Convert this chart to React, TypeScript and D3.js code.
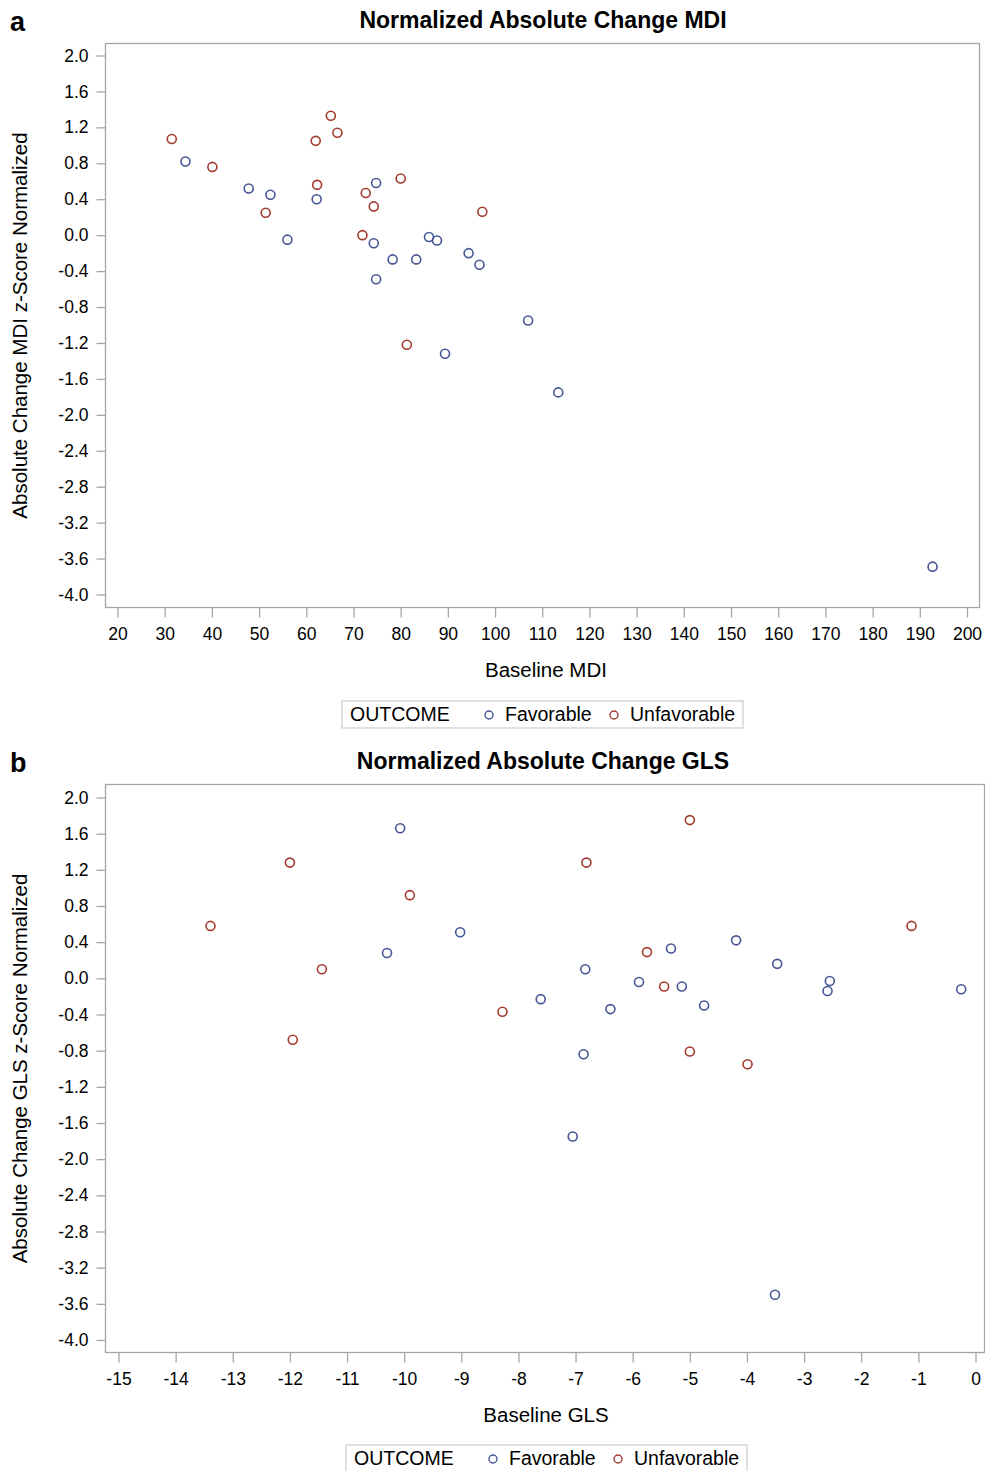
import { useRef, useEffect } from 'react';
import * as d3 from 'd3';

// panel a: baseline MDI vs normalized change
const mdiFavX = [34.4, 47.8, 52.4, 56.0, 62.2, 74.8, 74.3, 74.8, 78.3, 83.3, 86.0, 87.7, 94.4, 96.7, 89.4, 107.0, 113.4, 192.7];
const mdiFavY = [0.82, 0.52, 0.45, -0.05, 0.40, 0.58, -0.09, -0.49, -0.27, -0.27, -0.02, -0.06, -0.20, -0.33, -1.32, -0.95, -1.75, -3.69];
const mdiUnfX = [31.5, 40.1, 51.4, 62.0, 62.3, 65.2, 66.6, 72.6, 74.3, 71.9, 80.0, 97.3, 81.3];
const mdiUnfY = [1.07, 0.76, 0.25, 1.05, 0.56, 1.33, 1.14, 0.47, 0.32, 0.00, 0.63, 0.26, -1.22];

// panel b: baseline GLS vs normalized change
const glsFavX = [-10.07, -10.3, -9.02, -7.61, -6.83, -6.86, -7.05, -6.39, -5.89, -5.33, -5.14, -4.75, -4.19, -3.47, -3.51, -2.55, -2.59, -0.25];
const glsFavY = [1.66, 0.28, 0.51, -0.23, 0.10, -0.84, -1.75, -0.34, -0.04, 0.33, -0.09, -0.30, 0.42, 0.16, -3.50, -0.03, -0.14, -0.12];
const glsUnfX = [-13.39, -12.0, -11.44, -11.95, -9.9, -8.28, -6.81, -5.75, -5.45, -5.0, -5.0, -3.99, -1.12];
const glsUnfY = [0.58, 1.28, 0.10, -0.68, 0.92, -0.37, 1.28, 0.29, -0.09, 1.75, -0.81, -0.95, 0.58];

const yTicks = d3.range(-4.0, 2.01, 0.4);
const mdiTicks = d3.range(20, 201, 10);
const glsTicks = d3.range(-15, 1, 1);

const FAV = '#445694';
const UNF = '#a23a2e';
const FRAME = '#a5a5a5';
const FONT = '"Liberation Sans", Arial, sans-serif';

const zip = (xs: number[], ys: number[]) => xs.map((x, i) => ({ x, y: ys[i] }));
// SAS prints a plain hyphen, not the unicode minus d3 uses
const fmt1 = (d: number) => d.toFixed(1).replace('-0.0', '0.0');
const fmt0 = (d: number) => String(Math.round(d));

const drawPanel = (svg: any, cfg: any) => {
  const { letter, title, xLabel, yLabel, fav, unf, xDomain, xRange, yRange, frame, xTicks, legend } = cfg;
  const x = d3.scaleLinear().domain(xDomain).range(xRange);
  const y = d3.scaleLinear().domain([2, -4]).range(yRange);
  const g = svg.append('g');

  g.append('text').attr('x', 10).attr('y', frame.top - 13)
    .style('font-family', FONT).style('font-weight', 'bold').style('font-size', '27px')
    .text(letter);
  g.append('text').attr('x', 543).attr('y', frame.top - 16).attr('text-anchor', 'middle')
    .style('font-family', FONT).style('font-weight', 'bold').style('font-size', '23px')
    .text(title);

  g.append('rect')
    .attr('x', frame.left).attr('y', frame.top)
    .attr('width', frame.right - frame.left).attr('height', frame.bottom - frame.top)
    .attr('fill', 'none').attr('stroke', FRAME).attr('stroke-width', 1.3);

  // y axis
  const ya = g.append('g').attr('transform', `translate(${frame.left},0)`)
    .call(d3.axisLeft(y).tickValues(yTicks).tickSize(9).tickPadding(8).tickFormat(fmt1));
  ya.select('.domain').remove();
  // x axis
  const xa = g.append('g').attr('transform', `translate(0,${frame.bottom})`)
    .call(d3.axisBottom(x).tickValues(xTicks).tickSize(10).tickPadding(10).tickFormat(fmt0));
  xa.select('.domain').remove();
  g.selectAll('.tick line').attr('stroke', FRAME).attr('stroke-width', 1.3);
  g.selectAll('.tick text').attr('fill', '#000')
    .style('font-family', FONT).style('font-size', '17.5px');

  const cy = (frame.top + frame.bottom) / 2;
  g.append('text').attr('transform', `translate(27,${cy}) rotate(-90)`).attr('text-anchor', 'middle')
    .style('font-family', FONT).style('font-size', '20.5px')
    .text(yLabel);
  g.append('text').attr('x', 546).attr('y', frame.bottom + 69).attr('text-anchor', 'middle')
    .style('font-family', FONT).style('font-size', '20.5px')
    .text(xLabel);

  const pts = g.append('g');
  pts.selectAll('.fav').data(fav).enter().append('circle')
    .attr('cx', (d: any) => x(d.x)).attr('cy', (d: any) => y(d.y)).attr('r', 4.5)
    .attr('fill', 'none').attr('stroke', FAV).attr('stroke-width', 1.6);
  pts.selectAll('.unf').data(unf).enter().append('circle')
    .attr('cx', (d: any) => x(d.x)).attr('cy', (d: any) => y(d.y)).attr('r', 4.5)
    .attr('fill', 'none').attr('stroke', UNF).attr('stroke-width', 1.6);

  // legend
  const lg = g.append('g').attr('transform', `translate(${legend.x},${legend.y})`);
  lg.append('rect').attr('x', 0).attr('y', 0).attr('width', 401).attr('height', 27)
    .attr('fill', 'none').attr('stroke', '#cfcfcf').attr('stroke-width', 1.3);
  lg.append('text').attr('x', 8).attr('y', 20)
    .style('font-family', FONT).style('font-size', '19.5px').text('OUTCOME');
  lg.append('circle').attr('cx', 147).attr('cy', 14).attr('r', 4)
    .attr('fill', 'none').attr('stroke', FAV).attr('stroke-width', 1.4);
  lg.append('text').attr('x', 163).attr('y', 20)
    .style('font-family', FONT).style('font-size', '19.5px').text('Favorable');
  lg.append('circle').attr('cx', 272).attr('cy', 14).attr('r', 4)
    .attr('fill', 'none').attr('stroke', UNF).attr('stroke-width', 1.4);
  lg.append('text').attr('x', 288).attr('y', 20)
    .style('font-family', FONT).style('font-size', '19.5px').text('Unfavorable');
};

const App = () => {
  const svgRef = useRef<SVGSVGElement>(null);

  useEffect(() => {
    const svg = d3.select(svgRef.current);
    svg.selectAll('*').remove();
    svg.append('rect').attr('width', 985).attr('height', 1471).attr('fill', '#fff');

    drawPanel(svg, {
      letter: 'a',
      title: 'Normalized Absolute Change MDI',
      xLabel: 'Baseline MDI',
      yLabel: 'Absolute Change MDI z-Score Normalized',
      fav: zip(mdiFavX, mdiFavY),
      unf: zip(mdiUnfX, mdiUnfY),
      xDomain: [20, 200],
      xRange: [117.5, 967],
      yRange: [55.5, 594.5],
      frame: { left: 105.5, right: 979.5, top: 43.5, bottom: 607.5 },
      xTicks: mdiTicks,
      legend: { x: 342, y: 701 },
    });

    drawPanel(svg, {
      letter: 'b',
      title: 'Normalized Absolute Change GLS',
      xLabel: 'Baseline GLS',
      yLabel: 'Absolute Change GLS z-Score Normalized',
      fav: zip(glsFavX, glsFavY),
      unf: zip(glsUnfX, glsUnfY),
      xDomain: [-15, 0],
      xRange: [118.5, 975.5],
      yRange: [797.5, 1340],
      frame: { left: 105.5, right: 984.5, top: 784.5, bottom: 1352.5 },
      xTicks: glsTicks,
      legend: { x: 346, y: 1445 },
    });
  }, []);

  return (
    <svg ref={svgRef} width={985} height={1471}
      style={{ position: 'absolute', left: 0, top: 0, display: 'block' }} />
  );
};

export default App;
